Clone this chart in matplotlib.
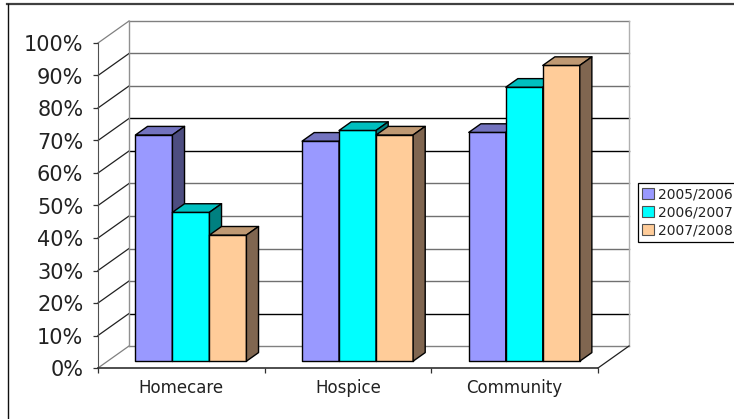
import numpy as np
import matplotlib
matplotlib.use("Agg")
import matplotlib.pyplot as plt
from matplotlib.lines import Line2D
from matplotlib.patches import Patch

categories = ["Homecare", "Hospice", "Community"]
series_names = ["2005/2006", "2006/2007", "2007/2008"]
values_0506 = [69.6, 67.7, 70.4]
values_0607 = [45.8, 71, 84.3]
values_0708 = [38.8, 69.6, 91]
y_tick_labels = ["0%", "10%", "20%", "30%", "40%", "50%", "60%", "70%", "80%", "90%", "100%"]

front_colors = ["#9999FF", "#00FFFF", "#FFCC99"]
top_colors = ["#7373BF", "#00BFBF", "#BF9973"]
side_colors = ["#4D4D80", "#008080", "#806650"]
grid_colors = ["#808080", "#000000", "#707070", "#707070", "#707070", "#707070",
               "#000000", "#000000", "#707070", "#707070", "#808080"]

W, H = 734, 419
# wide glyphs stand in for the letter spaced labels of the original
plt.rcParams["font.family"] = ["DejaVu Sans"]

fig = plt.figure(figsize=(W / 100, H / 100), dpi=100, facecolor="white")
ax = fig.add_axes([98 / W, 1 - 368 / H, 500 / W, 325 / H])
ax.set_xlim(0, 3)
ax.set_ylim(0, 100)

# depth of the 3d box, in data units
DX = 31 / (500 / 3)
DY = 22 / 3.25
BAR_W = 37 / (500 / 3)
D0, D1 = 0.31, 0.70

# walls
for i, pct in enumerate(range(0, 101, 10)):
    ax.plot([DX, 3 + DX], [pct + DY, pct + DY], color=grid_colors[i], lw=1, clip_on=False, zorder=1)
    c = "#808080" if pct in (0, 100) else "#202020"
    ax.plot([0, DX], [pct, pct + DY], color=c, lw=0.9, clip_on=False, zorder=1)
ax.plot([DX, DX], [DY, 100 + DY], color="#909090", lw=1, clip_on=False, zorder=1)
ax.plot([3 + DX, 3 + DX], [DY, 100 + DY], color="#b0b0b0", lw=1, clip_on=False, zorder=1)
ax.plot([3, 3 + DX], [0, DY], color="#202020", lw=0.9, clip_on=False, zorder=1)


def draw_bar(x0, h, s, z):
    x_f = x0 + D0 * DX
    x_r = x_f + BAR_W
    b_f = D0 * DY
    t_f = b_f + h
    ddx = (D1 - D0) * DX
    ddy = (D1 - D0) * DY
    kw = dict(edgecolor="black", lw=1, clip_on=False, zorder=z, joinstyle="round")
    ax.fill([x_f, x_r, x_r, x_f], [b_f, b_f, t_f, t_f], facecolor=front_colors[s], **kw)
    ax.fill([x_f, x_r, x_r + ddx, x_f + ddx], [t_f, t_f, t_f + ddy, t_f + ddy], facecolor=top_colors[s], **kw)
    ax.fill([x_r, x_r + ddx, x_r + ddx, x_r], [b_f, b_f + ddy, t_f + ddy, t_f], facecolor=side_colors[s], **kw)


all_values = [values_0506, values_0607, values_0708]
z = 3
for g in range(len(categories)):
    left = g + 0.5 - 1.5 * BAR_W
    for s in range(3):
        draw_bar(left + s * BAR_W, all_values[s][g], s, z)
        z += 1

for name in ["top", "right"]:
    ax.spines[name].set_visible(False)
ax.spines["left"].set_color("#505050")
ax.spines["bottom"].set_color("#303030")
ax.spines["bottom"].set_linewidth(1.2)
ax.spines["left"].set_zorder(2)

ax.set_yticks(np.arange(0, 101, 10))
ax.set_yticklabels(y_tick_labels, fontsize=15, color="#222222")
ax.tick_params(axis="y", length=3.6, width=0.9, color="#303030", pad=7)
ax.set_xticks([0, 1, 2, 3])
ax.set_xticklabels([])
ax.set_xticks([0.5, 1.5, 2.5], minor=True)
ax.set_xticklabels(categories, minor=True, fontsize=12, color="#222222")
ax.tick_params(axis="x", which="major", length=3.6, width=0.9, color="#303030")
ax.tick_params(axis="x", which="minor", length=0, pad=8)

# chart area border, only top and left are in the picture
fig.add_artist(Line2D([7 / W, 1], [1 - 4.5 / H, 1 - 4.5 / H], color="#404040", lw=1.6))
fig.add_artist(Line2D([7.5 / W, 7.5 / W], [0, 1 - 4.5 / H], color="#101010", lw=1))

handles = [Patch(facecolor=front_colors[i], edgecolor="#505050", lw=0.8) for i in range(3)]
leg = fig.legend(handles, series_names, loc="upper left",
                 bbox_to_anchor=(638 / W, 1 - 183 / H), fontsize=10,
                 labelcolor="#222222",
                 frameon=True, fancybox=False, edgecolor="black", framealpha=1,
                 handlelength=0.85, handleheight=0.85, handletextpad=0.3,
                 borderaxespad=0, borderpad=0.3, labelspacing=0.3)
leg.get_frame().set_linewidth(0.9)

fig.savefig("out.png", dpi=100, facecolor="white")
